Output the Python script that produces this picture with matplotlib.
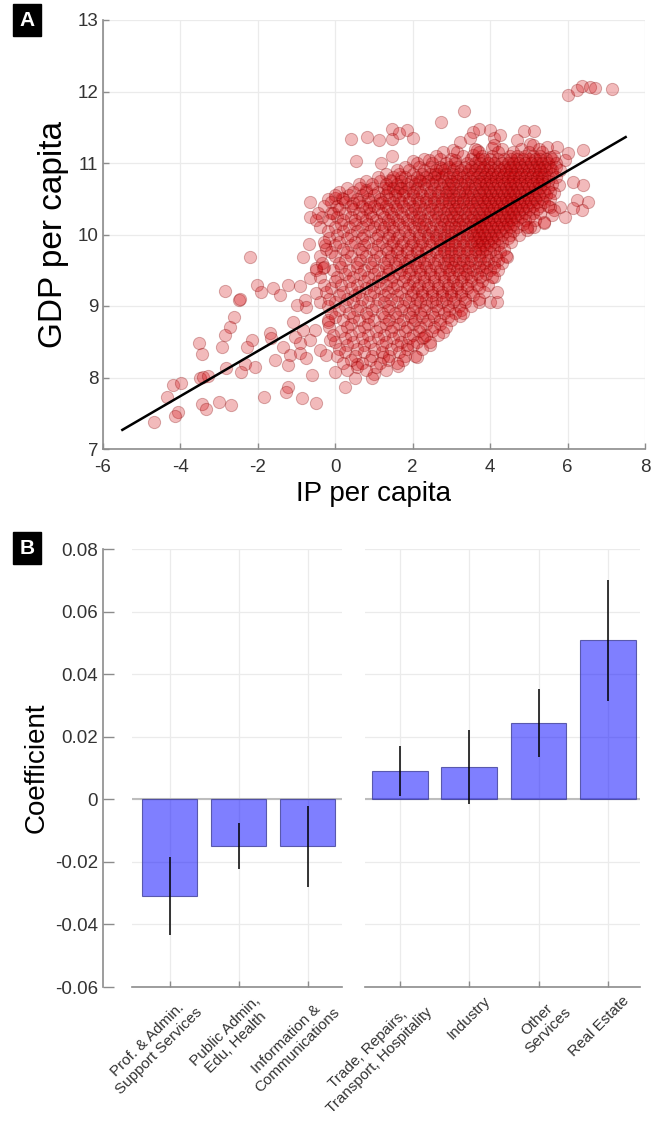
import numpy as np
import matplotlib
matplotlib.use("Agg")
import matplotlib.pyplot as plt
import matplotlib.transforms as mtransforms

plt.rcParams['font.family'] = ['Liberation Sans', 'DejaVu Sans']
plt.rcParams['axes.unicode_minus'] = False

# ---- panel A: scattered regions (IP per capita, GDP per capita) ----
outer_ip = [-2.21, -2.84, -2.49, -2.47, -2.02, -1.91, -1.61, -1.42, -1.22, -0.92,
            -2.62, -2.73, -2.86, -2.92, -3.52, -3.43, -2.14, -2.28, -1.69, -1.65,
            -1.55, -1.35, -1.22, -1.18, -0.92, -0.75, -2.34, -2.08, -2.43, -2.81,
            -3.50, -3.42, -3.29, -4.19, -3.98, -4.35, -1.22, -1.28, -1.83, -0.87,
            -0.49, -3.43, -3.35, -3.00, -2.70, -4.06, -4.15, -4.68, -0.60, -0.92,
            -1.05, -0.66, -0.83, -0.79, -0.75, -0.83, -0.69, -0.27, -0.49, -0.32,
            -0.66, -0.49, -0.40, -1.00, -1.09, -0.53, -0.40, -0.23, -0.14, -0.19,
            3.33, 2.72, 0.41, 0.81, 1.13, 1.46, 1.46, 1.65, 1.85, 2.02,
            0.54, 1.18, 1.46, 2.01, 2.41, 2.78, 3.05, 3.22, 3.10, 3.55,
            3.70, 3.48, 3.65, 3.57, 4.00, 4.09, 4.04, -0.65, -0.01, 0.17,
            0.80, 1.42, 1.70, 1.35, 1.66, 2.15, 2.58, 2.75, 0.47, 0.86,
            1.16, -0.65, -0.35, -0.05,
            6.00, 6.24, 6.37, 6.58, 6.71, 7.14, 4.88, 5.12, 4.69, 4.26,
            6.41, 6.15, 6.41, 6.54, 6.24, 6.37, 6.15, 5.94, 5.81, 5.64,
            5.55, 5.72, 6.02, 5.46, 5.78, 5.65, 5.55, 5.59, 5.38, 5.12,
            4.95, 5.03, 5.94,
            0.25, 0.99, 1.63, 2.10, 2.45, 2.79, 3.22, 3.70, 4.00, 4.17,
            4.17, 4.09, 4.43, -0.01, 0.56, 1.24, 1.85, 2.28, 5.03, 5.38]
outer_gdp = [9.68, 9.21, 9.08, 9.10, 9.30, 9.19, 9.25, 9.15, 9.29, 9.28,
             8.84, 8.70, 8.59, 8.42, 8.48, 8.33, 8.52, 8.42, 8.62, 8.55,
             8.24, 8.42, 8.17, 8.32, 8.34, 8.27, 8.19, 8.14, 8.07, 8.13,
             8.00, 8.01, 8.02, 7.90, 7.92, 7.73, 7.87, 7.80, 7.73, 7.72,
             7.65, 7.63, 7.56, 7.66, 7.62, 7.52, 7.46, 7.38, 8.04, 8.48,
             8.57, 8.52, 8.66, 9.08, 8.99, 9.69, 9.87, 9.85, 9.53, 9.53,
             9.39, 9.18, 9.06, 9.01, 8.78, 8.66, 8.38, 8.32, 8.52, 8.78,
             11.73, 11.58, 11.34, 11.37, 11.32, 11.47, 11.34, 11.42, 11.46, 11.35,
             11.03, 11.00, 11.10, 11.03, 11.04, 11.16, 11.18, 11.30, 11.04, 11.44,
             11.47, 11.35, 11.18, 11.11, 11.46, 11.35, 11.21, 10.45, 10.51, 10.51,
             10.62, 10.76, 10.81, 10.65, 10.65, 10.76, 10.85, 10.93, 10.44, 10.39,
             10.44, 10.25, 10.25, 10.30,
             11.95, 12.02, 12.08, 12.06, 12.05, 12.03, 11.45, 11.45, 11.32, 11.39,
             11.18, 10.73, 10.69, 10.46, 10.48, 10.34, 10.37, 10.25, 10.39, 10.34,
             11.09, 11.23, 11.14, 11.23, 10.69, 10.58, 10.39, 10.27, 10.16, 10.11,
             10.06, 11.27, 11.04,
             7.87, 8.05, 8.16, 8.29, 8.45, 8.64, 8.86, 9.06, 9.05, 9.06,
             9.20, 9.40, 9.69, 8.07, 8.19, 8.29, 8.45, 8.57, 10.11, 10.18]

# dense body of the cloud, one list of IP values per GDP level
core_gdp = [11.25, 11.2, 11.15, 11.1, 11.05, 11.0, 10.95, 10.9, 10.85, 10.8,
            10.75, 10.7, 10.65, 10.6, 10.55, 10.5, 10.45, 10.4, 10.35, 10.3,
            10.25, 10.2, 10.15, 10.1, 10.05, 10.0, 9.95, 9.9, 9.85, 9.8,
            9.75, 9.7, 9.65, 9.6, 9.55, 9.5, 9.45, 9.4, 9.35, 9.3,
            9.25, 9.2, 9.15, 9.1, 9.05, 9.0, 8.95, 8.9, 8.85, 8.8,
            8.75, 8.7, 8.65, 8.6, 8.55, 8.5, 8.45, 8.4, 8.35, 8.3,
            8.25, 8.2, 8.15, 8.1, 8.0]
core_ip = [
    [4.1, 5.1],
    [3.6, 4.3, 4.8, 5.25],
    [3.15, 3.7, 4.2, 4.6, 5.0, 5.35],
    [2.6, 3.3, 3.8, 4.05, 4.5, 4.7, 4.9, 5.1, 5.3, 5.65],
    [2.3, 2.7, 3.0, 3.5, 3.7, 3.85, 4.0, 4.2, 4.35, 4.55, 4.7, 4.85, 5.0,
     5.15, 5.3, 5.45, 5.6],
    [2.1, 2.5, 2.85, 3.1, 3.4, 3.6, 3.75, 3.95, 4.1, 4.3, 4.45, 4.6, 4.75, 4.9,
     5.05, 5.2, 5.35, 5.5, 5.7],
    [1.8, 2.15, 2.45, 2.7, 2.95, 3.15, 3.35, 3.5, 3.7, 3.85, 4.0, 4.2, 4.35, 4.5,
     4.65, 4.8, 4.95, 5.1, 5.25, 5.4, 5.55, 5.7],
    [1.6, 1.9, 2.3, 2.6, 2.8, 3.05, 3.25, 3.45, 3.6, 3.8, 3.95, 4.1, 4.25, 4.4,
     4.55, 4.7, 4.85, 5.0, 5.15, 5.3, 5.45, 5.6, 5.8],
    [1.3, 1.65, 2.0, 2.25, 2.45, 2.65, 2.85, 3.05, 3.2, 3.4, 3.55, 3.75, 3.9,
     4.05, 4.2, 4.35, 4.5, 4.65, 4.8, 4.95, 5.1, 5.25, 5.4, 5.6],
    [1.1, 1.5, 1.8, 2.1, 2.35, 2.55, 2.75, 2.95, 3.15, 3.3, 3.5, 3.65, 3.85, 4.0,
     4.15, 4.3, 4.45, 4.6, 4.75, 4.9, 5.05, 5.2, 5.35, 5.5, 5.7],
    [0.8, 1.15, 1.45, 1.7, 1.95, 2.2, 2.4, 2.6, 2.8, 3.0, 3.15, 3.35, 3.5, 3.7,
     3.85, 4.0, 4.15, 4.3, 4.45, 4.6, 4.75, 4.9, 5.05, 5.2, 5.35, 5.5],
    [0.6, 0.95, 1.3, 1.6, 1.85, 2.05, 2.3, 2.5, 2.7, 2.9, 3.05, 3.25, 3.4, 3.6,
     3.75, 3.9, 4.05, 4.2, 4.35, 4.5, 4.65, 4.8, 4.95, 5.1, 5.25, 5.4, 5.6],
    [0.3, 0.65, 0.95, 1.25, 1.5, 1.7, 1.9, 2.1, 2.35, 2.55, 2.75, 2.95, 3.1, 3.3,
     3.45, 3.6, 3.8, 3.95, 4.1, 4.25, 4.4, 4.55, 4.7, 4.85, 5.0, 5.15, 5.3, 5.5],
    [0.1, 0.45, 0.8, 1.1, 1.35, 1.6, 1.8, 2.0, 2.2, 2.45, 2.65, 2.85, 3.0, 3.2,
     3.35, 3.5, 3.7, 3.85, 4.0, 4.15, 4.3, 4.45, 4.6, 4.75, 4.9, 5.05, 5.2, 5.4, 5.55],
    [0.0, 0.35, 0.7, 1.0, 1.3, 1.55, 1.75, 2.0, 2.25, 2.45, 2.65, 2.85, 3.05,
     3.2, 3.4, 3.55, 3.75, 3.9, 4.05, 4.2, 4.35, 4.5, 4.65, 4.8, 4.95, 5.1, 5.25,
     5.45],
    [-0.2, 0.2, 0.55, 0.85, 1.15, 1.4, 1.65, 1.9, 2.1, 2.35, 2.55, 2.75, 2.95,
     3.1, 3.3, 3.45, 3.65, 3.8, 3.95, 4.1, 4.25, 4.4, 4.55, 4.7, 4.85, 5.0, 5.15,
     5.35, 5.55],
    [-0.1, 0.25, 0.6, 0.9, 1.2, 1.5, 1.7, 1.9, 2.15, 2.35, 2.55, 2.75, 2.95,
     3.15, 3.3, 3.5, 3.65, 3.85, 4.0, 4.15, 4.3, 4.45, 4.6, 4.75, 4.9, 5.05, 5.2,
     5.4],
    [-0.3, 0.05, 0.4, 0.7, 1.0, 1.3, 1.55, 1.75, 2.0, 2.2, 2.45, 2.65, 2.85,
     3.05, 3.2, 3.4, 3.55, 3.75, 3.9, 4.05, 4.2, 4.35, 4.5, 4.65, 4.8, 4.95, 5.1,
     5.3, 5.5],
    [0.1, 0.45, 0.8, 1.1, 1.35, 1.6, 1.85, 2.05, 2.3, 2.5, 2.7, 2.9, 3.1,
     3.25, 3.45, 3.6, 3.8, 3.95, 4.1, 4.25, 4.4, 4.55, 4.7, 4.85, 5.0, 5.2],
    [-0.45, -0.1, 0.25, 0.6, 0.9, 1.2, 1.45, 1.7, 1.95, 2.15, 2.4, 2.6, 2.8, 3.0,
     3.15, 3.35, 3.5, 3.7, 3.85, 4.0, 4.15, 4.3, 4.45, 4.6, 4.75, 4.9, 5.1, 5.3],
    [0.05, 0.4, 0.7, 0.95, 1.25, 1.5, 1.75, 2.0, 2.2, 2.45, 2.65, 2.85,
     3.05, 3.2, 3.4, 3.55, 3.75, 3.9, 4.05, 4.2, 4.35, 4.5, 4.65, 4.8, 5.0],
    [-0.5, -0.15, 0.2, 0.5, 0.8, 1.05, 1.35, 1.6, 1.85, 2.1, 2.3, 2.55, 2.75,
     2.95, 3.15, 3.3, 3.5, 3.65, 3.8, 3.95, 4.1, 4.25, 4.4, 4.55, 4.7, 4.9, 5.15],
    [0.15, 0.5, 0.85, 1.15, 1.4, 1.65, 1.9, 2.15, 2.35, 2.6, 2.8, 3.0,
     3.2, 3.35, 3.55, 3.7, 3.85, 4.0, 4.15, 4.3, 4.45, 4.6, 4.85],
    [-0.4, 0.0, 0.35, 0.7, 1.0, 1.25, 1.5, 1.75, 2.0, 2.25, 2.45, 2.7, 2.9, 3.1,
     3.25, 3.45, 3.6, 3.75, 3.9, 4.05, 4.2, 4.35, 4.5, 4.7, 4.95],
    [-0.2, 0.2, 0.55, 0.9, 1.2, 1.5, 1.8, 2.05, 2.3, 2.5, 2.7, 2.9, 3.1, 3.3,
     3.5, 3.65, 3.8, 3.95, 4.1, 4.25, 4.4, 4.6],
    [0.05, 0.4, 0.75, 1.1, 1.4, 1.65, 1.9, 2.15, 2.4, 2.6, 2.8, 3.0, 3.2,
     3.4, 3.55, 3.7, 3.85, 4.0, 4.15, 4.3, 4.5, 4.75],
    [-0.15, 0.3, 0.7, 1.05, 1.35, 1.6, 1.9, 2.15, 2.4, 2.6, 2.8, 3.0, 3.2, 3.4,
     3.6, 3.75, 3.9, 4.05, 4.2, 4.45],
    [-0.3, 0.1, 0.5, 0.85, 1.2, 1.5, 1.75, 2.0, 2.25, 2.5, 2.7, 2.9, 3.1, 3.3,
     3.5, 3.65, 3.8, 3.95, 4.1, 4.3, 4.55],
    [0.0, 0.4, 0.75, 1.1, 1.45, 1.7, 1.95, 2.2, 2.45, 2.7, 2.9, 3.1, 3.3,
     3.5, 3.7, 3.85, 4.0, 4.2],
    [-0.25, 0.2, 0.6, 0.95, 1.3, 1.6, 1.85, 2.1, 2.35, 2.6, 2.8, 3.0, 3.2, 3.4,
     3.6, 3.75, 3.9, 4.1, 4.35],
    [-0.1, 0.3, 0.7, 1.05, 1.35, 1.6, 1.85, 2.1, 2.35, 2.6, 2.8, 3.0, 3.2, 3.4,
     3.6, 3.8, 4.0, 4.25],
    [-0.4, 0.0, 0.4, 0.8, 1.15, 1.45, 1.7, 1.95, 2.2, 2.45, 2.7, 2.9, 3.1, 3.3,
     3.5, 3.7, 3.9, 4.15, 4.4],
    [0.25, 0.65, 1.0, 1.35, 1.65, 1.9, 2.15, 2.4, 2.65, 2.9, 3.1, 3.3, 3.5,
     3.75, 3.95, 4.2],
    [-0.35, 0.1, 0.55, 0.9, 1.25, 1.55, 1.8, 2.05, 2.3, 2.55, 2.8, 3.0, 3.2, 3.4,
     3.6, 3.85, 4.1, 4.3],
    [-0.3, 0.15, 0.55, 0.95, 1.3, 1.6, 1.85, 2.1, 2.35, 2.6, 2.85, 3.05, 3.25,
     3.45, 3.7, 3.9, 4.1],
    [-0.5, -0.05, 0.35, 0.75, 1.1, 1.4, 1.7, 1.95, 2.2, 2.45, 2.7, 2.95, 3.15,
     3.35, 3.55, 3.8, 4.0, 4.2],
    [0.25, 0.65, 1.0, 1.35, 1.65, 1.9, 2.2, 2.45, 2.7, 2.95, 3.2, 3.4,
     3.65, 3.9],
    [-0.4, 0.05, 0.45, 0.85, 1.2, 1.5, 1.8, 2.05, 2.3, 2.55, 2.8, 3.05, 3.3, 3.5,
     3.75, 4.05],
    [0.0, 0.35, 0.75, 1.1, 1.45, 1.75, 2.0, 2.3, 2.55, 2.8, 3.05, 3.25,
     3.5, 3.8],
    [-0.3, 0.15, 0.55, 0.95, 1.3, 1.6, 1.9, 2.15, 2.4, 2.65, 2.9, 3.15, 3.4, 3.65,
     3.95],
    [-0.1, 0.4, 0.8, 1.15, 1.5, 1.85, 2.1, 2.4, 2.65, 2.9, 3.15, 3.4, 3.7],
    [-0.25, 0.2, 0.6, 1.0, 1.35, 1.7, 2.0, 2.25, 2.5, 2.75, 3.0, 3.25, 3.5, 3.85],
    [0.1, 0.5, 0.9, 1.25, 1.6, 1.95, 2.25, 2.5, 2.75, 3.0, 3.25, 3.55],
    [-0.15, 0.3, 0.7, 1.1, 1.45, 1.8, 2.1, 2.35, 2.6, 2.85, 3.1, 3.35, 3.7],
    [0.0, 0.45, 0.85, 1.25, 1.6, 1.9, 2.2, 2.5, 2.75, 3.05, 3.35],
    [-0.2, 0.25, 0.65, 1.05, 1.4, 1.75, 2.05, 2.35, 2.6, 2.9, 3.2, 3.5],
    [0.1, 0.55, 0.95, 1.35, 1.7, 2.0, 2.3, 2.65, 2.95, 3.25],
    [-0.1, 0.35, 0.8, 1.2, 1.55, 1.9, 2.2, 2.5, 2.8, 3.1, 3.3],
    [0.0, 0.45, 0.85, 1.25, 1.6, 1.95, 2.25, 2.55, 2.9],
    [-0.2, 0.2, 0.6, 1.0, 1.4, 1.75, 2.05, 2.4, 2.7, 3.0],
    [0.4, 0.85, 1.3, 1.65, 2.0, 2.35, 2.7],
    [-0.15, 0.3, 0.75, 1.15, 1.5, 1.85, 2.2, 2.55, 2.85],
    [0.15, 0.6, 1.05, 1.45, 1.8, 2.15, 2.5],
    [-0.05, 0.4, 0.85, 1.25, 1.65, 2.0, 2.35, 2.65],
    [0.25, 0.7, 1.1, 1.5, 1.9, 2.25],
    [0.0, 0.45, 0.9, 1.3, 1.7, 2.1, 2.45],
    [0.3, 0.75, 1.2, 1.6, 2.0],
    [0.1, 0.55, 1.0, 1.45, 1.85, 2.25],
    [0.25, 0.75, 1.2, 1.65],
    [0.05, 0.5, 0.95, 1.4, 1.8, 2.05],
    [0.4, 0.9, 1.35, 1.75],
    [0.2, 0.7, 1.15, 1.6],
    [0.55, 1.05],
    [0.3, 0.8, 1.3],
    [0.5, 0.95],
]

# fitted line: GDP = intercept + slope * IP
fit_slope = 0.315
fit_intercept = 9.0
fit_range = [-5.5, 7.5]

# ---- panel B: sector coefficients ----
neg_sectors = ["Prof. & Admin.\nSupport Services", "Public Admin,\nEdu, Health",
               "Information &\nCommunications"]
neg_coef = [-0.031, -0.015, -0.015]
neg_err = [0.0125, 0.0073, 0.013]

pos_sectors = ["Trade, Repairs,\nTransport, Hospitality", "Industry",
               "Other\nServices", "Real Estate"]
pos_coef = [0.009, 0.0102, 0.0243, 0.0508]
pos_err = [0.008, 0.0118, 0.0108, 0.0193]


W, H = 651, 1122
fig = plt.figure(figsize=(W / 100, H / 100), dpi=100)

grid_c = '#ebebeb'
spine_c = '#8c8c8c'


def style_axes(ax, left=True):
    for s in ['top', 'right']:
        ax.spines[s].set_visible(False)
    ax.spines['bottom'].set_color(spine_c)
    ax.spines['bottom'].set_linewidth(1.2)
    ax.spines['left'].set_color(spine_c)
    ax.spines['left'].set_linewidth(1.2)
    ax.spines['left'].set_visible(left)
    ax.tick_params(direction='in', length=4, width=1, color=spine_c,
                   labelsize=13.5, labelcolor='#333333')
    ax.grid(True, color=grid_c, linewidth=0.9)
    ax.set_axisbelow(True)


def box_label(x, y, s):
    fig.text(x, y, s, color='white', fontsize=15, fontweight='bold',
             ha='center', va='center',
             bbox=dict(boxstyle='square,pad=0.3', fc='black', ec='black'))


# panel A
axA = fig.add_axes([103 / W, 1 - 449 / H, (645 - 103) / W, (449 - 20) / H])
style_axes(axA)
axA.tick_params(axis='x', pad=7)

sx = list(outer_ip)
sy = list(outer_gdp)
for g, row in zip(core_gdp, core_ip):
    sx += row
    sy += [g] * len(row)

axA.scatter(sx, sy, s=78, facecolor=(0.82, 0.0, 0.02, 0.27),
            edgecolor=(0.5, 0.0, 0.0, 0.3), linewidth=0.7, zorder=2)
fx = np.array(fit_range)
axA.plot(fx, fit_intercept + fit_slope * fx, color='black', lw=1.8, zorder=3)

axA.set_xlim(-6, 8)
axA.set_ylim(7, 13)
axA.set_xticks(range(-6, 9, 2))
axA.set_yticks(range(7, 14))
axA.set_xlabel("IP per capita", fontsize=20, labelpad=4)
axA.set_ylabel("GDP per capita", fontsize=24, labelpad=6)
box_label(27 / W, 1 - 20 / H, "A")

# panel B
y0 = 1 - 987 / H
hB = (987 - 549) / H
ax1 = fig.add_axes([132 / W, y0, (342 - 132) / W, hB])
ax2 = fig.add_axes([365 / W, y0, (640 - 365) / W, hB])

bar_fc = (0.0, 0.0, 1.0, 0.5)
bar_ec = (0.25, 0.25, 0.6, 0.8)

for ax, names, coef, err, xl, left in [
        (ax1, neg_sectors, neg_coef, neg_err, (-0.55, 2.5), True),
        (ax2, pos_sectors, pos_coef, pos_err, (-0.5, 3.46), False)]:
    style_axes(ax, left)
    pos = np.arange(len(names))
    ax.bar(pos, coef, width=0.8, color=bar_fc, edgecolor=bar_ec, linewidth=0.8,
           zorder=2)
    ax.errorbar(pos, coef, yerr=err, fmt='none', ecolor='black', elinewidth=1.1,
                capsize=0, zorder=3)
    ax.axhline(0, color='#bdbdbd', lw=1.5, zorder=1)
    ax.set_xlim(*xl)
    ax.set_ylim(-0.06, 0.08)
    ax.set_yticks(np.arange(-0.06, 0.081, 0.02))
    ax.set_xticks(pos)
    ax.set_xticklabels(names, rotation=45, ha='right', va='top',
                       rotation_mode='anchor', multialignment='center',
                       fontsize=11, color='#333333')
    ax.tick_params(axis='x', pad=5)
    off = mtransforms.ScaledTranslation(10 / 72, 0, fig.dpi_scale_trans)
    for lab in ax.get_xticklabels():
        lab.set_transform(lab.get_transform() + off)

ax1.spines['left'].set_position(('outward', 21))
ax1.tick_params(axis='y', length=8)
ax1.set_yticklabels(['-0.06', '-0.04', '-0.02', '0', '0.02', '0.04', '0.06', '0.08'])
ax2.tick_params(axis='y', left=False, labelleft=False)
ax1.set_ylabel("Coefficient", fontsize=20, labelpad=4)
box_label(27 / W, 1 - 548 / H, "B")

fig.savefig("out.png", dpi=100)
